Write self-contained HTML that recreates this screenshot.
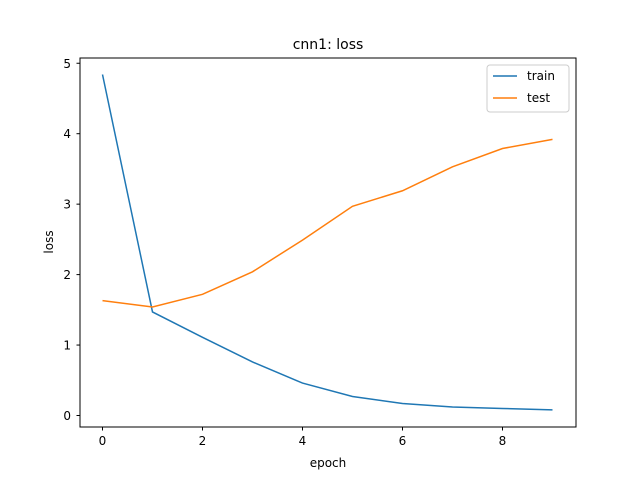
<!DOCTYPE html>
<html><head><meta charset="utf-8"><style>
body{margin:0;background:#fff}
svg{display:block;font-family:"DejaVu Sans","Liberation Sans",sans-serif}
</style></head><body>
<svg id="chart" width="640" height="480">
<rect width="640" height="480" fill="#fff"/>
<text x="328" y="49" text-anchor="middle" font-size="14">cnn1: loss</text>
<g id="axes"></g>
<g id="lines"></g>
<rect x="80" y="58" width="496" height="369" fill="none" stroke="#000" stroke-width="1"/>
<text x="328" y="467" text-anchor="middle" font-size="12">epoch</text>
<text x="0" y="0" transform="translate(53,242) rotate(-90)" text-anchor="middle" font-size="12">loss</text>
<g>
<rect x="487" y="65" width="82" height="47" rx="3" fill="#fff" fill-opacity="0.8" stroke="#ccc"/>
<line x1="493" y1="76" x2="517" y2="76" stroke="#1f77b4" stroke-width="1.5"/>
<text x="527" y="80" font-size="12">train</text>
<line x1="493" y1="98" x2="517" y2="98" stroke="#ff7f0e" stroke-width="1.5"/>
<text x="527" y="102" font-size="12">test</text>
</g>
</svg>
<script>
const epochs=[0,1,2,3,4,5,6,7,8,9];
const trainLoss=[4.84,1.47,1.11,0.76,0.46,0.27,0.17,0.12,0.10,0.08];
const testLoss=[1.63,1.54,1.72,2.04,2.49,2.97,3.19,3.53,3.79,3.92];
const xTicks=[0,2,4,6,8];
const yTicks=[0,1,2,3,4,5];
const NS="http://www.w3.org/2000/svg";
function xs(v){return 102.5+v*50;}
function ys(v){return 415.5-v*70.45;}
const axes=document.getElementById('axes');
xTicks.forEach(t=>{
 const l=document.createElementNS(NS,'line');
 l.setAttribute('x1',xs(t));l.setAttribute('x2',xs(t));l.setAttribute('y1',427);l.setAttribute('y2',430.5);l.setAttribute('stroke','#000');
 
 
 axes.appendChild(l);
 const tx=document.createElementNS(NS,'text');
 tx.setAttribute('x',xs(t));tx.setAttribute('y',445);tx.setAttribute('text-anchor','middle');tx.setAttribute('font-size','12');tx.textContent=t;
 
 
 axes.appendChild(tx);
});
yTicks.forEach(t=>{
 const l=document.createElementNS(NS,'line');
 l.setAttribute('x1',76.5);l.setAttribute('x2',80);l.setAttribute('y1',ys(t));l.setAttribute('y2',ys(t));l.setAttribute('stroke','#000');
 
 
 axes.appendChild(l);
 const tx=document.createElementNS(NS,'text');
 tx.setAttribute('x',71);tx.setAttribute('y',ys(t)+4.5);tx.setAttribute('text-anchor','end');tx.setAttribute('font-size','12');tx.textContent=t;
 
 
 axes.appendChild(tx);
});
const lines=document.getElementById('lines');
function draw(vals,color,name){
 const p=document.createElementNS(NS,'polyline');
 p.setAttribute('points',vals.map((v,i)=>xs(epochs[i])+','+ys(v)).join(' '));
 p.setAttribute('fill','none');p.setAttribute('stroke',color);p.setAttribute('stroke-width','1.5');
 
 
 lines.appendChild(p);
}
draw(trainLoss,'#1f77b4','train-line');
draw(testLoss,'#ff7f0e','test-line');
</script>
</body></html>
